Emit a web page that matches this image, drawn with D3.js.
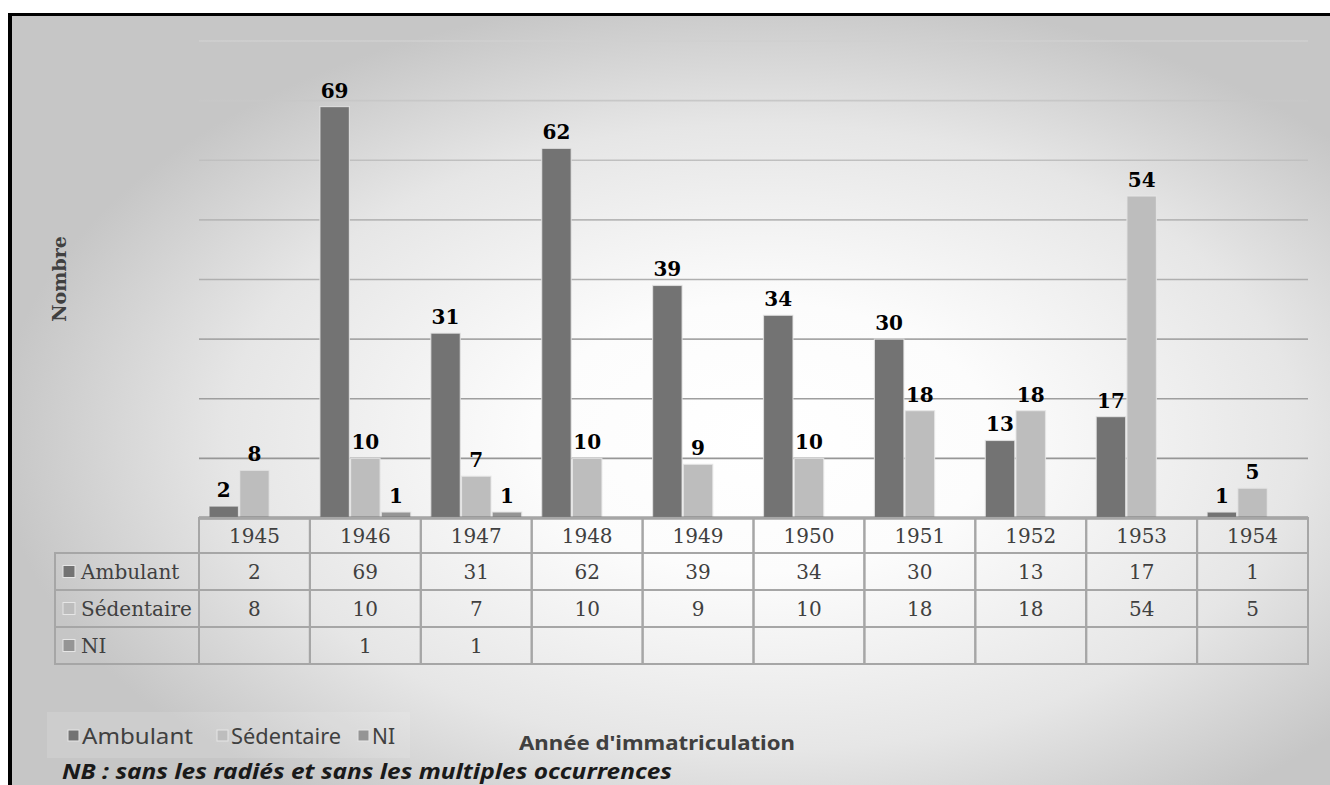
<!DOCTYPE html>
<html>
<head>
<meta charset="utf-8">
<script src="https://cdn.jsdelivr.net/npm/d3@7"></script>
<style>
  html, body { margin: 0; padding: 0; background: #fff; }
  svg { display: block; }
</style>
</head>
<body>
<svg id="chart"></svg>
<script>
const years = ["1945", "1946", "1947", "1948", "1949", "1950", "1951", "1952", "1953", "1954"];
const seriesNames = ["Ambulant", "Sédentaire", "NI"];
const ambulant = [2, 69, 31, 62, 39, 34, 30, 13, 17, 1];
const sedentaire = [8, 10, 7, 10, 9, 10, 18, 18, 54, 5];
const ni = [null, 1, 1, null, null, null, null, null, null, null];
const yTicks = [0, 10, 20, 30, 40, 50, 60, 70, 80];

const seriesValues = [ambulant, sedentaire, ni];
const colors = ["#737373", "#bdbdbd", "#959595"];

const W = 1330, H = 785;
const svg = d3.select("#chart").attr("width", W).attr("height", H);

// background gradient
const defs = svg.append("defs");
const rg = defs.append("radialGradient")
    .attr("id", "bg")
    .attr("cx", 0.57).attr("cy", 0.55).attr("r", 0.58);
rg.append("stop").attr("offset", 0).attr("stop-color", "#ffffff");
rg.append("stop").attr("offset", 0.3).attr("stop-color", "#fcfcfc");
rg.append("stop").attr("offset", 0.7).attr("stop-color", "#e6e6e6");
rg.append("stop").attr("offset", 1).attr("stop-color", "#c6c6c6");

const lg = defs.append("linearGradient")
    .attr("id", "grid").attr("gradientUnits", "userSpaceOnUse")
    .attr("x1", 0).attr("y1", 41).attr("x2", 0).attr("y2", 518);
lg.append("stop").attr("offset", 0).attr("stop-color", "#d0d0d0");
lg.append("stop").attr("offset", 1).attr("stop-color", "#8e8e8e");

svg.append("rect").attr("x", 10).attr("y", 13).attr("width", W - 10).attr("height", H - 13)
    .attr("fill", "url(#bg)");
svg.append("line").attr("x1", 8).attr("x2", W).attr("y1", 14.5).attr("y2", 14.5)
    .attr("stroke", "#000").attr("stroke-width", 3);
svg.append("line").attr("x1", 10).attr("x2", 10).attr("y1", 13).attr("y2", H)
    .attr("stroke", "#000").attr("stroke-width", 4);

// Scales
const plotLeft = 199, plotRight = 1308, base = 518, plotTop = 41;
const x = d3.scaleBand().domain(years).range([plotLeft, plotRight]).padding(0);
const xs = d3.scaleBand().domain(seriesNames).range([10, x.bandwidth() - 10]).paddingInner(0.04);
const y = d3.scaleLinear().domain([0, 80]).range([base, plotTop]);

// gridlines
svg.append("g").selectAll("line")
    .data(yTicks.slice(1))
    .enter().append("line")
    .attr("x1", plotLeft).attr("x2", plotRight)
    .attr("y1", d => y(d)).attr("y2", d => y(d))
    .attr("stroke", "url(#grid)").attr("stroke-width", 1.6);

// bars
const groups = svg.append("g").selectAll("g")
    .data(seriesNames)
    .enter().append("g")
    .attr("fill", (d, i) => colors[i]);

groups.each(function(name, si) {
    const vals = years.map((yr, i) => ({ yr, v: seriesValues[si][i] })).filter(d => d.v != null);
    const g = d3.select(this);
    g.selectAll("rect")
        .data(vals)
        .enter().append("rect")
        .attr("x", d => x(d.yr) + xs(name))
        .attr("y", d => y(d.v))
        .attr("width", xs.bandwidth())
        .attr("height", d => base - y(d.v))
        .attr("stroke", "#e6e6e6").attr("stroke-width", 1.2).attr("stroke-opacity", 0.8);
    g.selectAll("text")
        .data(vals)
        .enter().append("text")
        .attr("x", d => x(d.yr) + xs(name) + xs.bandwidth() / 2)
        .attr("y", d => y(d.v) - 9)
        .attr("text-anchor", "middle")
        .attr("font-family", "DejaVu Serif")
        .attr("font-weight", "bold")
        .attr("font-size", 20)
        .attr("fill", "#000")
        .text(d => d.v);
});

// baseline
svg.append("line").attr("x1", plotLeft).attr("x2", plotRight).attr("y1", base).attr("y2", base)
    .attr("stroke", "#7a7a7a").attr("stroke-width", 3);

// data table
const rowH = 37, headTop = 518, headH = 35, tLeft = 55;
const table = svg.append("g");
const tStroke = "#a6a6a6";
table.selectAll("rect.head")
    .data(years)
    .enter().append("rect")
    .attr("class", "head")
    .attr("x", d => x(d)).attr("y", headTop)
    .attr("width", x.bandwidth()).attr("height", headH)
    .attr("fill", "none").attr("stroke", tStroke).attr("stroke-width", 2);
table.selectAll("text.head")
    .data(years)
    .enter().append("text")
    .attr("class", "head")
    .attr("x", d => x(d) + x.bandwidth() / 2)
    .attr("y", headTop + headH / 2 + 7)
    .attr("text-anchor", "middle")
    .attr("font-family", "DejaVu Serif").attr("font-size", 20).attr("fill", "#404040")
    .text(d => d);

seriesNames.forEach((name, si) => {
    const ry = headTop + headH + si * rowH;
    table.append("rect")
        .attr("x", tLeft).attr("y", ry).attr("width", plotLeft - tLeft).attr("height", rowH)
        .attr("fill", "none").attr("stroke", tStroke).attr("stroke-width", 2);
    table.append("rect")
        .attr("x", 63).attr("y", ry + rowH / 2 - 6).attr("width", 12).attr("height", 12)
        .attr("fill", colors[si]).attr("stroke", "#e6e6e6").attr("stroke-width", 1);
    table.append("text")
        .attr("x", 81).attr("y", ry + rowH / 2 + 7)
        .attr("font-family", "DejaVu Serif").attr("font-size", 20).attr("fill", "#404040")
        .text(name);
    table.selectAll(null)
        .data(years)
        .enter().append("rect")
        .attr("x", d => x(d)).attr("y", ry)
        .attr("width", x.bandwidth()).attr("height", rowH)
        .attr("fill", "none").attr("stroke", tStroke).attr("stroke-width", 2);
    table.selectAll(null)
        .data(years.map((yr, i) => ({ yr, v: seriesValues[si][i] })).filter(d => d.v != null))
        .enter().append("text")
        .attr("x", d => x(d.yr) + x.bandwidth() / 2)
        .attr("y", ry + rowH / 2 + 7)
        .attr("text-anchor", "middle")
        .attr("font-family", "DejaVu Serif").attr("font-size", 20).attr("fill", "#404040")
        .text(d => d.v);
});

// axis titles
svg.append("text")
    .attr("transform", "translate(66,279) rotate(-90)")
    .attr("text-anchor", "middle")
    .attr("font-family", "DejaVu Serif").attr("font-weight", "bold").attr("font-size", 19)
    .attr("fill", "#404040")
    .text("Nombre");

svg.append("text")
    .attr("x", 657).attr("y", 750)
    .attr("text-anchor", "middle")
    .attr("font-family", "Noto Sans").attr("font-weight", "bold").attr("font-size", 20)
    .attr("textLength", 276).attr("lengthAdjust", "spacingAndGlyphs")
    .attr("fill", "#404040")
    .text("Année d'immatriculation");

// legend
svg.append("rect").attr("x", 47).attr("y", 712).attr("width", 363).attr("height", 46)
    .attr("fill", "#ffffff").attr("opacity", 0.12);
const legX = [68, 217, 358];
const legW = [111, 110, 23];
const legend = svg.append("g").selectAll("g")
    .data(seriesNames)
    .enter().append("g")
    .attr("transform", (d, i) => `translate(${legX[i]},736)`);
legend.append("rect")
    .attr("x", 0).attr("y", -6).attr("width", 11).attr("height", 11)
    .attr("fill", (d, i) => colors[i]).attr("stroke", "#e6e6e6").attr("stroke-width", 1);
legend.append("text")
    .attr("x", 14).attr("y", 8)
    .attr("font-family", "Noto Sans").attr("font-size", 21).attr("fill", "#404040")
    .attr("textLength", (d, i) => legW[i]).attr("lengthAdjust", "spacingAndGlyphs")
    .text(d => d);

// note
svg.append("text")
    .attr("x", 62).attr("y", 779)
    .attr("font-family", "Noto Sans").attr("font-weight", "bold").attr("font-style", "italic")
    .attr("font-size", 22).attr("fill", "#1a1a1a")
    .attr("textLength", 610).attr("lengthAdjust", "spacingAndGlyphs")
    .text("NB : sans les radiés et sans les multiples occurrences");
</script>
</body>
</html>
